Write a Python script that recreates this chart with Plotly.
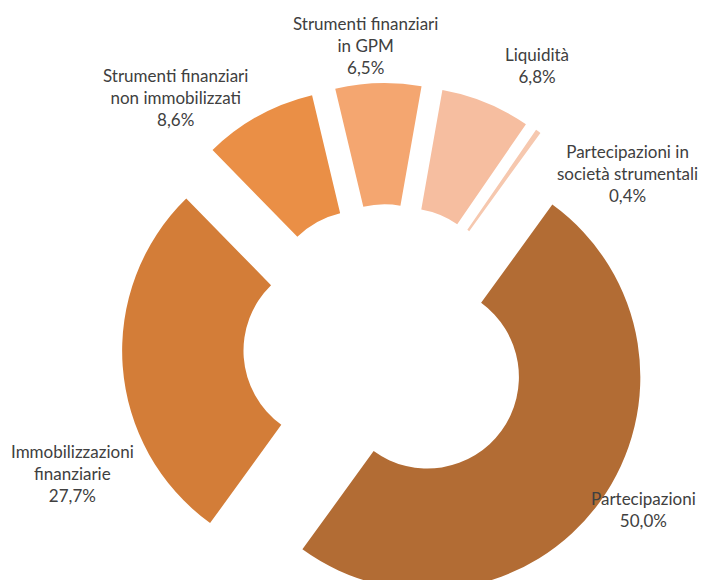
import plotly.graph_objects as go

# dati (ordine orario a partire dalla fetta sottile in alto a destra)
voci = ["Partecipazioni in società strumentali", "Partecipazioni",
        "Immobilizzazioni finanziarie", "Strumenti finanziari non immobilizzati",
        "Strumenti finanziari in GPM", "Liquidità"]
etichette = ["Partecipazioni in<br>società strumentali", "Partecipazioni",
             "Immobilizzazioni<br>finanziarie", "Strumenti finanziari<br>non immobilizzati",
             "Strumenti finanziari<br>in GPM", "Liquidità"]
percentuali = [0.4, 50.0, 27.7, 8.6, 6.5, 6.8]
colori = ["#F6C8AF", "#B26C34", "#D37D38", "#EA8F46", "#F4A670", "#F6BEA0"]

W, H = 707, 620
OFF = 8  # margine del body della pagina html

# posizione delle etichette (pixel nella pagina) - come nel grafico originale
pos_etichette = [(627, 173), (643, 509), (72, 473), (175, 97), (365, 45), (537, 66)]

fig = go.Figure()
fig.add_trace(go.Pie(
    labels=voci, values=percentuali,
    sort=False, direction="clockwise", rotation=34.5,
    hole=0.43, pull=0.24,
    marker=dict(colors=colori, line=dict(width=0)),
    textinfo="none", hoverinfo="label+percent",
    domain=dict(x=[(122-OFF)/W, (650-OFF)/W], y=[1-(611-OFF)/H, 1-(83-OFF)/H]),
    showlegend=False
))

for lab, val, (px, py) in zip(etichette, percentuali, pos_etichette):
    fig.add_annotation(
        text=lab + "<br>" + ("%.1f%%" % val).replace(".", ","),
        x=(px-OFF)/W, y=1-(py-OFF)/H, xref="paper", yref="paper",
        xanchor="center", yanchor="middle", showarrow=False, align="center",
        font=dict(family="Lato", size=17, color="#404040")
    )

fig.update_layout(width=W, height=H, margin=dict(l=0, r=0, t=0, b=0),
                  paper_bgcolor="white", plot_bgcolor="white")

fig.write_html("out.html")
